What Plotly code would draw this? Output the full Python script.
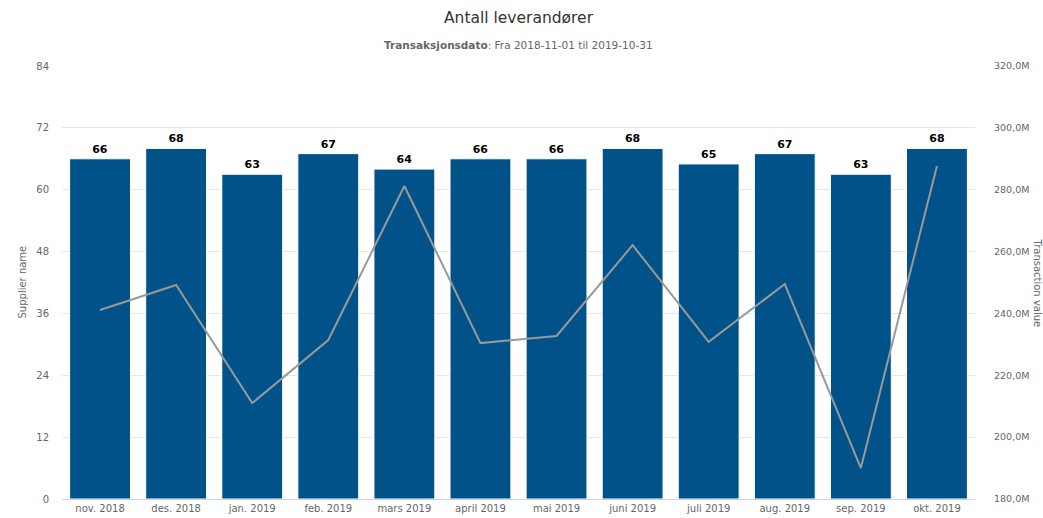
import plotly.graph_objects as go

months = ["nov. 2018", "des. 2018", "jan. 2019", "feb. 2019", "mars 2019", "april 2019",
          "mai 2019", "juni 2019", "juli 2019", "aug. 2019", "sep. 2019", "okt. 2019"]
suppliers = [66, 68, 63, 67, 64, 66, 66, 68, 65, 67, 63, 68]
transaction_value = [241.1e6, 249.2e6, 211.0e6, 231.4e6, 281.2e6, 230.4e6,
                     232.7e6, 262.1e6, 230.8e6, 249.5e6, 190.0e6, 287.7e6]

left_ticks = [0, 12, 24, 36, 48, 60, 72, 84]
right_ticks = [180e6, 200e6, 220e6, 240e6, 260e6, 280e6, 300e6, 320e6]
right_tick_text = ["180,0M", "200,0M", "220,0M", "240,0M", "260,0M", "280,0M", "300,0M", "320,0M"]

FONT = "DejaVu Sans"
L, R, T, B = 62, 68, 66, 19
PW, PH = 1043 - L - R, 518 - T - B

fig = go.Figure()
fig.add_trace(go.Bar(
    x=months, y=suppliers, name="Supplier name",
    marker=dict(color="#005288", line=dict(color="#ffffff", width=1)),
    text=suppliers, texttemplate="<b>%{text}</b>", textposition="outside",
    textfont=dict(family=FONT, size=11, color="#000000"),
    cliponaxis=False,
))
fig.add_trace(go.Scatter(
    x=months, y=transaction_value, name="Transaction value", yaxis="y2",
    mode="lines", line=dict(color="#999999", width=2),
))

fig.update_layout(
    width=1043, height=518,
    margin=dict(l=L, r=R, t=T, b=B, autoexpand=False),
    paper_bgcolor="white", plot_bgcolor="white",
    showlegend=False,
    bargap=0.2,
    font=dict(family=FONT, size=10, color="#666666"),
    title=dict(text="Antall leverandører", x=0.5, xanchor="center", xref="paper",
               y=1 - 18 / 518, yref="container", yanchor="middle", automargin=False,
               font=dict(family=FONT, size=15.5, color="#333333")),
    xaxis=dict(showgrid=False, showline=True, linecolor="#ccd6eb", ticks="", automargin=False,
               tickfont=dict(family=FONT, size=10, color="#666666")),
    yaxis=dict(range=[0, 84], tickvals=left_ticks, showgrid=True, gridcolor="#e6e6e6",
               zeroline=False, showline=False, ticks="", automargin=False,
               tickfont=dict(family=FONT, size=10, color="#666666"), ticklabelstandoff=12),
    yaxis2=dict(range=[180e6, 320e6], tickvals=right_ticks, ticktext=right_tick_text,
                overlaying="y", side="right", showgrid=False, zeroline=False, automargin=False,
                tickfont=dict(family=FONT, size=9.5, color="#666666"), ticklabelstandoff=18),
    annotations=[
        dict(text="<b>Transaksjonsdato</b>: Fra 2018-11-01 til 2019-10-31", xref="paper", yref="paper",
             x=0.5, y=1 + (T - 45) / PH, xanchor="center", yanchor="middle",
             showarrow=False, font=dict(family=FONT, size=10.5, color="#666666")),
        dict(text="Supplier name", xref="paper", yref="paper", x=-40 / PW, y=0.5,
             xanchor="center", yanchor="middle", textangle=-90, showarrow=False,
             font=dict(family=FONT, size=10, color="#666666")),
        dict(text="Transaction value", xref="paper", yref="paper", x=1 + 62 / PW, y=0.5,
             xanchor="center", yanchor="middle", textangle=90, showarrow=False,
             font=dict(family=FONT, size=10, color="#666666")),
    ],
)

fig.write_html("out.html", config={"displayModeBar": False},
               post_script="document.body.style.margin='0';")
